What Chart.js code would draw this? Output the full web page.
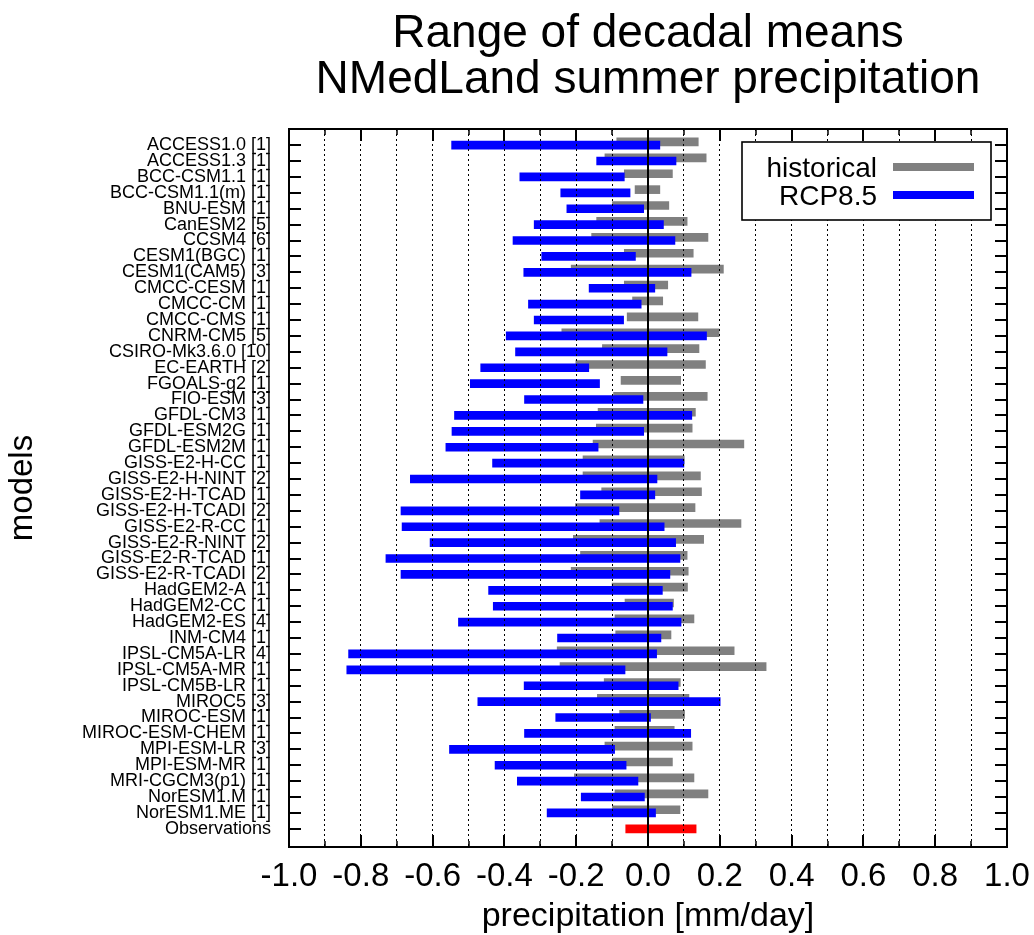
<!DOCTYPE html>
<html>
<head>
<meta charset="utf-8">
<title>Range of decadal means</title>
<script src="https://cdn.jsdelivr.net/npm/chart.js@4/dist/chart.umd.min.js"></script>
<style>
  html, body { margin: 0; padding: 0; background: #ffffff; }
  #wrap { width: 1034px; height: 935px; }
  canvas { display: block; }
</style>
</head>
<body>
<div id="wrap"><canvas id="chart" width="1034" height="935"></canvas></div>
<script>
// ---- data -------------------------------------------------------------
const titleLines = ['Range of decadal means', 'NMedLand summer precipitation'];
const xAxisTitle = 'precipitation [mm/day]';
const yAxisTitle = 'models';

const models = [
  'ACCESS1.0 [1]', 'ACCESS1.3 [1]', 'BCC-CSM1.1 [1]', 'BCC-CSM1.1(m) [1]', 'BNU-ESM [1]',
  'CanESM2 [5]', 'CCSM4 [6]', 'CESM1(BGC) [1]', 'CESM1(CAM5) [3]', 'CMCC-CESM [1]',
  'CMCC-CM [1]', 'CMCC-CMS [1]', 'CNRM-CM5 [5]', 'CSIRO-Mk3.6.0 [10]', 'EC-EARTH [2]',
  'FGOALS-g2 [1]', 'FIO-ESM [3]', 'GFDL-CM3 [1]', 'GFDL-ESM2G [1]', 'GFDL-ESM2M [1]',
  'GISS-E2-H-CC [1]', 'GISS-E2-H-NINT [2]', 'GISS-E2-H-TCAD [1]', 'GISS-E2-H-TCADI [2]', 'GISS-E2-R-CC [1]',
  'GISS-E2-R-NINT [2]', 'GISS-E2-R-TCAD [1]', 'GISS-E2-R-TCADI [2]', 'HadGEM2-A [1]', 'HadGEM2-CC [1]',
  'HadGEM2-ES [4]', 'INM-CM4 [1]', 'IPSL-CM5A-LR [4]', 'IPSL-CM5A-MR [1]', 'IPSL-CM5B-LR [1]',
  'MIROC5 [3]', 'MIROC-ESM [1]', 'MIROC-ESM-CHEM [1]', 'MPI-ESM-LR [3]', 'MPI-ESM-MR [1]',
  'MRI-CGCM3(p1) [1]', 'NorESM1.M [1]', 'NorESM1.ME [1]'
];

// historical: lowest and highest decadal mean (mm/day)
const histLow = [
  -0.087, -0.120, -0.066, -0.036, -0.099, -0.143, -0.157, -0.066, -0.214, -0.066,
  -0.043, -0.058, -0.240, -0.127, -0.201, -0.075, -0.096, -0.139, -0.144, -0.153,
  -0.181, -0.181, -0.129, -0.202, -0.134, -0.208, -0.188, -0.214, -0.100, -0.064,
  -0.092, -0.090, -0.253, -0.245, -0.122, -0.141, -0.079, -0.092, -0.120, -0.099,
  -0.205, -0.092, -0.099
];
const histHigh = [
  0.140, 0.162, 0.068, 0.033, 0.058, 0.109, 0.167, 0.126, 0.210, 0.055,
  0.041, 0.139, 0.198, 0.142, 0.160, 0.091, 0.165, 0.132, 0.123, 0.267,
  0.101, 0.146, 0.149, 0.131, 0.259, 0.155, 0.109, 0.112, 0.110, 0.071,
  0.128, 0.064, 0.240, 0.329, 0.090, 0.114, 0.102, 0.073, 0.123, 0.068,
  0.128, 0.167, 0.089
];

// RCP8.5: lowest and highest decadal mean (mm/day)
const rcpLow = [
  -0.547, -0.143, -0.357, -0.243, -0.226, -0.317, -0.376, -0.296, -0.346, -0.164,
  -0.333, -0.317, -0.395, -0.369, -0.466, -0.495, -0.344, -0.539, -0.546, -0.563,
  -0.433, -0.662, -0.188, -0.688, -0.685, -0.607, -0.730, -0.688, -0.444, -0.431,
  -0.528, -0.252, -0.834, -0.839, -0.345, -0.474, -0.257, -0.344, -0.553, -0.426,
  -0.364, -0.186, -0.281
];
const rcpHigh = [
  0.033, 0.078, -0.066, -0.050, -0.012, 0.043, 0.075, -0.035, 0.120, 0.019,
  -0.019, -0.068, 0.163, 0.053, -0.165, -0.135, -0.014, 0.122, -0.012, -0.139,
  0.100, 0.025, 0.019, -0.081, 0.045, 0.077, 0.089, 0.061, 0.040, 0.068,
  0.092, 0.036, 0.024, -0.064, 0.084, 0.201, 0.007, 0.119, -0.093, -0.061,
  -0.028, -0.010, 0.021
];

const obsLabel = 'Observations';
const obsRange = [-0.062, 0.134];

// x axis: labelled ticks and the minor (unlabelled) grid positions
const xMajorTicks = [-1.0, -0.8, -0.6, -0.4, -0.2, 0.0, 0.2, 0.4, 0.6, 0.8, 1.0];
const xMinorTicks = [-0.9, -0.7, -0.5, -0.3, -0.1, 0.1, 0.3, 0.5, 0.7, 0.9];

// ---- chart ------------------------------------------------------------
const FONT = "'Liberation Sans', Arial, Helvetica, sans-serif";
const rowLabels = models.concat([obsLabel]);
const HIST_SHIFT = -0.2;   // historical bar sits slightly above its row
const xGrid = xMajorTicks.concat(xMinorTicks).sort((a, b) => a - b);

const histData = models.map((m, i) => ({ y: i + HIST_SHIFT, x: [histLow[i], histHigh[i]] }));
const rcpData = models.map((m, i) => ({ y: i, x: [rcpLow[i], rcpHigh[i]] }));
const obsData = [{ y: models.length, x: obsRange }];

// frame, zero line, inward tick marks, legend box and title
const decorations = {
  id: 'decorations',
  afterDraw(chart) {
    const { ctx, chartArea: a, scales: { x, y } } = chart;
    ctx.save();
    ctx.strokeStyle = '#000';
    ctx.lineCap = 'butt';

    // zero line
    const x0 = Math.round(x.getPixelForValue(0));
    ctx.lineWidth = 2;
    ctx.beginPath();
    ctx.moveTo(x0, a.top);
    ctx.lineTo(x0, a.bottom);
    ctx.stroke();

    // x tick marks on bottom and top edges
    const xTick = (v, len, lw) => {
      const px = Math.round(x.getPixelForValue(v));
      ctx.lineWidth = lw;
      ctx.beginPath();
      ctx.moveTo(px, a.bottom); ctx.lineTo(px, a.bottom - len);
      ctx.moveTo(px, a.top); ctx.lineTo(px, a.top + len);
      ctx.stroke();
    };
    xMajorTicks.forEach(v => xTick(v, 12, 2));
    xMinorTicks.forEach(v => xTick(v, 6, 1.5));

    // y tick marks on left and right edges
    ctx.lineWidth = 2;
    ctx.beginPath();
    rowLabels.forEach((r, i) => {
      const py = Math.round(y.getPixelForValue(i));
      ctx.moveTo(a.left, py); ctx.lineTo(a.left + 12, py);
      ctx.moveTo(a.right, py); ctx.lineTo(a.right - 12, py);
    });
    ctx.stroke();

    // frame
    ctx.lineWidth = 2;
    ctx.strokeRect(a.left, a.top, a.right - a.left, a.bottom - a.top);

    // legend
    const bx = a.right - 265, by = a.top + 13, bw = 249, bh = 78;
    ctx.fillStyle = '#fff';
    ctx.fillRect(bx, by, bw, bh);
    ctx.lineWidth = 1.6;
    ctx.strokeRect(bx, by, bw, bh);
    ctx.font = '28px ' + FONT;
    ctx.textAlign = 'right';
    ctx.textBaseline = 'alphabetic';
    chart.data.datasets.slice(0, 2).forEach((ds, k) => {
      const cy = by + 25 + k * 28;
      ctx.fillStyle = '#000';
      ctx.fillText(ds.label, bx + 135, cy + 10);
      ctx.strokeStyle = ds.backgroundColor;
      ctx.lineWidth = 8;
      ctx.beginPath();
      ctx.moveTo(bx + 151, cy);
      ctx.lineTo(bx + 232, cy);
      ctx.stroke();
    });

    // title, centred over the plot area
    ctx.fillStyle = '#000';
    ctx.font = '46px ' + FONT;
    ctx.textAlign = 'center';
    const cx = (a.left + a.right) / 2;
    titleLines.forEach((t, k) => ctx.fillText(t, cx, 47 + k * 46));

    ctx.restore();
  }
};

new Chart(document.getElementById('chart'), {
  type: 'bar',
  data: {
    datasets: [
      { label: 'historical', data: histData, backgroundColor: '#808080', stack: 'all', order: 3 },
      { label: 'RCP8.5', data: rcpData, backgroundColor: '#0000ff', stack: 'all', order: 2 },
      { label: obsLabel, data: obsData, backgroundColor: '#ff0000', stack: 'all', order: 1 }
    ]
  },
  options: {
    indexAxis: 'y',
    responsive: false,
    animation: false,
    devicePixelRatio: 1,
    layout: { padding: { top: 129, right: 27, bottom: 0, left: 0 } },
    datasets: { bar: { barThickness: 8, borderWidth: 0, borderSkipped: false } },
    plugins: { legend: { display: false }, tooltip: { enabled: false }, title: { display: false } },
    scales: {
      x: {
        type: 'linear',
        position: 'bottom',
        min: -1,
        max: 1,
        bounds: 'data',
        stacked: false,
        afterBuildTicks: s => { s.ticks = xGrid.map(v => ({ value: v })); },
        afterFit: s => { s.height = 88; s.paddingLeft = 0; s.paddingRight = 0; },
        ticks: {
          autoSkip: false,
          maxRotation: 0,
          padding: 10,
          color: '#000',
          font: { family: FONT, size: 33 },
          callback: v => (xMajorTicks.includes(v) ? v.toFixed(1) : '')
        },
        grid: {
          drawTicks: false,
          z: 1,
          lineWidth: 1,
          color: c => (c.tick && (Math.abs(c.tick.value) > 0.999 || c.tick.value === 0)) ? 'rgba(0,0,0,0)' : '#000'
        },
        border: { display: false, dash: [2, 3] },
        title: {
          display: true,
          text: xAxisTitle,
          color: '#000',
          font: { family: FONT, size: 34, lineHeight: 1.1 },
          padding: { top: 0, bottom: 0 }
        }
      },
      y: {
        type: 'linear',
        reverse: true,
        min: -0.5,
        max: 43.63,
        bounds: 'data',
        afterBuildTicks: s => { s.ticks = rowLabels.map((r, i) => ({ value: i })); },
        afterFit: s => { s.width = 289; s.paddingTop = 0; s.paddingBottom = 0; },
        ticks: {
          autoSkip: false,
          padding: 18,
          color: '#000',
          font: { family: FONT, size: 18, lineHeight: 1 },
          callback: v => rowLabels[v]
        },
        grid: { display: false, drawTicks: false },
        border: { display: false },
        title: {
          display: true,
          text: yAxisTitle,
          color: '#000',
          font: { family: FONT, size: 33 },
          padding: { top: 3, bottom: 0 }
        }
      }
    }
  },
  plugins: [decorations]
});
</script>
</body>
</html>
